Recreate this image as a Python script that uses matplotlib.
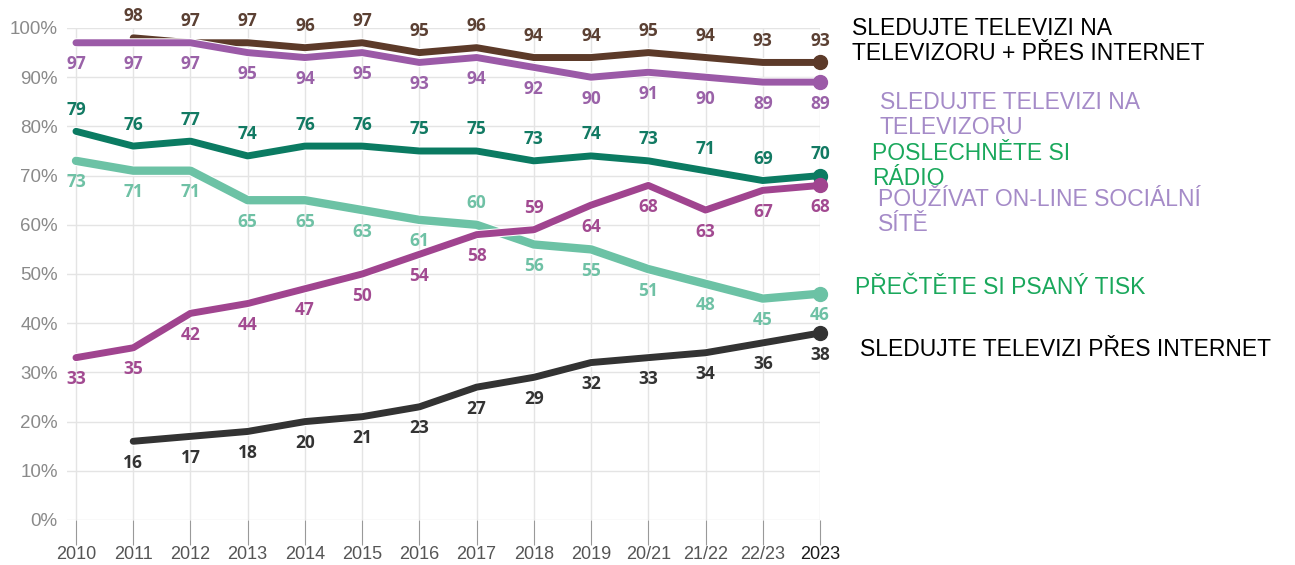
import numpy as np
import matplotlib.pyplot as plt
import matplotlib.patheffects as pe

years = ['2010', '2011', '2012', '2013', '2014', '2015', '2016', '2017',
         '2018', '2019', '20/21', '21/22', '22/23', '2023']
nan = np.nan
tv_both = [nan, 98, 97, 97, 96, 97, 95, 96, 94, 94, 95, 94, 93, 93]
tv_set = [97, 97, 97, 95, 94, 95, 93, 94, 92, 90, 91, 90, 89, 89]
radio = [79, 76, 77, 74, 76, 76, 75, 75, 73, 74, 73, 71, 69, 70]
press = [73, 71, 71, 65, 65, 63, 61, 60, 56, 55, 51, 48, 45, 46]
social = [33, 35, 42, 44, 47, 50, 54, 58, 59, 64, 68, 63, 67, 68]
tv_net = [nan, 16, 17, 18, 20, 21, 23, 27, 29, 32, 33, 34, 36, 38]

W, H = 1295, 565
fig = plt.figure(figsize=(W / 100, H / 100), dpi=100)
ax = fig.add_axes([67.4 / W, 1 - 520 / H, (820 - 67.4) / W, (520 - 28) / H])

x = np.arange(len(years))

# series: values, line colour, label colour, where labels go (+1 above, -1 below)
series = [
    (tv_both, '#5c3a29', '#5b4033', [1] * 14, 5),
    (tv_set, '#9b5aa7', '#9a62a8', [-1] * 14, 5),
    (radio, '#0b7b62', '#127a63', [1] * 14, 5),
    (press, '#6cc2a5', '#6fc1a5', [-1] * 7 + [1] + [-1] * 6, 6),
    (social, '#a0448f', '#a24a91', [-1] * 8 + [1] + [-1] * 5, 5),
    (tv_net, '#333333', '#333333', [-1] * 14, 5),
]

for vals, col, lcol, pos, lw in series:
    v = np.array(vals, dtype=float)
    ax.plot(x, v, color=col, lw=lw, solid_capstyle='round', zorder=3,
            path_effects=[pe.Stroke(linewidth=lw + 1.5, foreground='white'), pe.Normal()])
    ax.plot(x[-1], v[-1], 'o', color=col, ms=10, zorder=4, clip_on=False)
    for i, val in enumerate(v):
        if np.isnan(val):
            continue
        ax.annotate(f'{int(val)}', (x[i], val), xytext=(0, 15.5 * pos[i]),
                    textcoords='offset points', ha='center', va='center',
                    fontsize=12.5, fontweight='bold', color=lcol,
                    family=['Open Sans', 'DejaVu Sans'], annotation_clip=False)

ax.set_xlim(-0.15, 13)
ax.set_ylim(0, 100)
ax.set_yticks(range(0, 101, 10))
ax.set_yticklabels([f'{t}%' for t in range(0, 101, 10)], fontsize=13.5,
                   color='#8a8a8a', family=['Liberation Sans', 'DejaVu Sans'])
ax.set_xticks(x)
ax.set_xticklabels(years, fontsize=13, color='#555555',
                   family=['Liberation Sans', 'DejaVu Sans'])
ax.get_xticklabels()[-1].set_color('#1a1a1a')
ax.tick_params(axis='y', length=0, pad=7)
ax.tick_params(axis='x', length=18, width=0.8, color='#999999', pad=1)
ax.grid(True, color='#e4e4e4', lw=1)
ax.set_axisbelow(True)
for s in ax.spines.values():
    s.set_visible(False)

notes = [
    ('SLEDUJTE TELEVIZI NA\nTELEVIZORU + PŘES INTERNET', 852, 41, 'black'),
    ('SLEDUJTE TELEVIZI NA\nTELEVIZORU', 880, 115, '#a58bc8'),
    ('POSLECHNĚTE SI\nRÁDIO', 872, 166, '#1aa85c'),
    ('POUŽÍVAT ON-LINE SOCIÁLNÍ\nSÍTĚ', 878, 212, '#a58bc8'),
    ('PŘEČTĚTE SI PSANÝ TISK', 855, 288, '#1aa85c'),
    ('SLEDUJTE TELEVIZI PŘES INTERNET', 860, 350, 'black'),
]
for txt, px, py, col in notes:
    fig.text(px / W, 1 - py / H, txt, color=col, fontsize=16.5, ha='left',
             va='center', linespacing=1.08, family=['Liberation Sans', 'DejaVu Sans'])

fig.savefig('out.png', dpi=100, facecolor='white')
